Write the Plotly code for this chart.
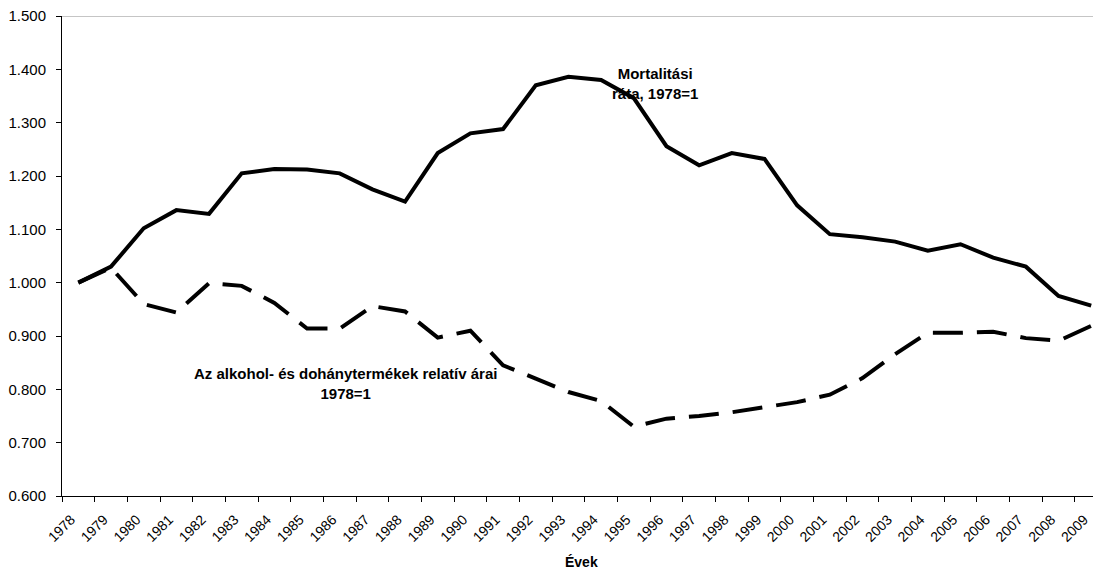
import plotly.graph_objects as go

years = list(range(1978, 2010))

mortalitas = [1.000, 1.030, 1.102, 1.136, 1.129, 1.205, 1.213, 1.212, 1.205, 1.175,
              1.152, 1.243, 1.280, 1.288, 1.370, 1.386, 1.380, 1.346, 1.256, 1.220,
              1.243, 1.232, 1.145, 1.091, 1.085, 1.077, 1.060, 1.072, 1.047, 1.030,
              0.975, 0.957]

relativ_ar = [1.000, 1.028, 0.960, 0.944, 0.999, 0.994, 0.962, 0.914, 0.914, 0.956,
              0.946, 0.897, 0.910, 0.845, 0.820, 0.795, 0.778, 0.730, 0.745, 0.750,
              0.757, 0.767, 0.776, 0.790, 0.821, 0.866, 0.906, 0.906, 0.908, 0.896,
              0.891, 0.919]

y_ticks = [0.6, 0.7, 0.8, 0.9, 1.0, 1.1, 1.2, 1.3, 1.4, 1.5]

FONT = "Liberation Sans, Arial, sans-serif"

fig = go.Figure()
fig.add_trace(go.Scatter(x=years, y=mortalitas, mode="lines",
                         line=dict(color="black", width=4), showlegend=False))
fig.add_trace(go.Scatter(x=years, y=relativ_ar, mode="lines",
                         line=dict(color="black", width=4, dash="30px,14px"),
                         showlegend=False))

# felső szürke keretvonal
fig.add_hline(y=1.5, line=dict(color="#8c8c8c", width=1))

fig.add_annotation(text="<b>Mortalitási<br>ráta, 1978=1</b>", xref="paper", yref="paper",
                   x=0.571, y=0.860, xanchor="center", yanchor="middle",
                   showarrow=False, align="center",
                   font=dict(size=15, color="black", family=FONT))
fig.add_annotation(text="<b>Az alkohol- és dohánytermékek relatív árai<br>1978=1</b>",
                   xref="paper", yref="paper", x=0.273, y=0.235,
                   xanchor="center", yanchor="middle", showarrow=False,
                   align="center", font=dict(size=15, color="black", family=FONT))
fig.add_annotation(text="<b>Évek</b>", xref="paper", yref="paper", x=0.5, y=-0.1375,
                   xanchor="center", yanchor="middle", showarrow=False,
                   font=dict(size=14, color="black", family=FONT))

# címkék kicsit balra a kategória közepétől, osztásjelek a határokon
fig.update_xaxes(range=[1977.5, 2009.3], tickmode="array",
                 tickvals=[y - 0.22 for y in years], ticktext=[str(y) for y in years],
                 ticks="", tickangle=-45, ticklabelstandoff=9,
                 ticklabeloverflow="allow",
                 minor=dict(ticks="outside", ticklen=5, tickcolor="black",
                            tick0=1977.5, dtick=1, showgrid=False),
                 showline=True, linecolor="black", linewidth=1, showgrid=False,
                 zeroline=False, automargin=False,
                 tickfont=dict(size=14, color="black", family=FONT))
fig.update_yaxes(range=[0.6, 1.5], tickmode="array", tickvals=y_ticks,
                 tickformat=".3f", ticks="outside", ticklen=5, tickcolor="black",
                 ticklabelstandoff=7, ticklabeloverflow="allow", automargin=False,
                 showline=True, linecolor="black", linewidth=1, showgrid=False,
                 zeroline=False, tickfont=dict(size=15, color="black", family=FONT))

# az oldal 8 px-es body margóját is beszámítva
fig.update_layout(width=1093, height=563, plot_bgcolor="white", paper_bgcolor="white",
                  margin=dict(l=54, r=0, t=8, b=75),
                  font=dict(family=FONT, color="black"))

fig.write_html("out.html")
